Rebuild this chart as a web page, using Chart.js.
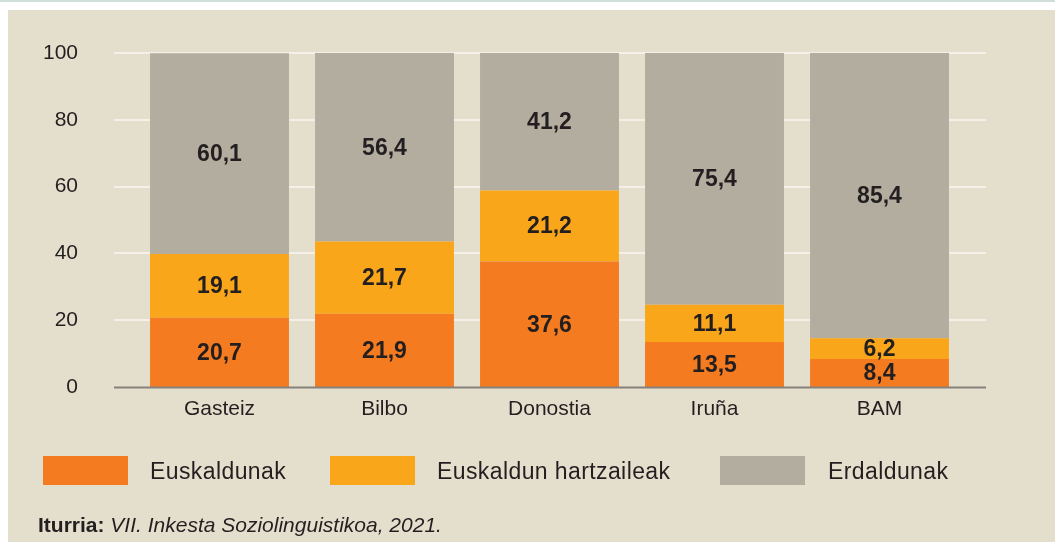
<!DOCTYPE html>
<html>
<head>
<meta charset="utf-8">
<script src="https://cdn.jsdelivr.net/npm/chart.js@4.4.1/dist/chart.umd.min.js"></script>
<style>
  html, body { margin: 0; padding: 0; background: #ffffff; }
  body { width: 1055px; height: 542px; position: relative; overflow: hidden;
         font-family: "Liberation Sans", Arial, sans-serif; color: #231f20; }
  .topline { position: absolute; left: 0; top: 0; width: 1055px; height: 2px; background: #cfe0dc; }
  .panel { position: absolute; left: 8px; top: 10px; width: 1047px; height: 532px; background: #e4dfcd; }
  #chart { position: absolute; left: 0; top: 0; width: 1055px; height: 542px; }
  .swatch { position: absolute; top: 456px; width: 85px; height: 29px; }
  .leg { position: absolute; top: 458px; font-size: 23px; line-height: 27px; letter-spacing: 0.4px; white-space: nowrap; }
  .source { position: absolute; left: 38px; top: 513px; font-size: 21px; line-height: 24px; white-space: nowrap; }
</style>
</head>
<body>
<div class="topline"></div>
<div class="panel"></div>
<canvas id="chart" width="1055" height="542"></canvas>

<div class="swatch" style="left:43px;background:#f47b20"></div>
<div class="leg" style="left:150px">Euskaldunak</div>
<div class="swatch" style="left:330px;background:#faa61a"></div>
<div class="leg" style="left:437px">Euskaldun hartzaileak</div>
<div class="swatch" style="left:720px;background:#b3ada0"></div>
<div class="leg" style="left:828px">Erdaldunak</div>

<div class="source"><b>Iturria:</b> <i>VII. Inkesta Soziolinguistikoa, 2021.</i></div>

<script>
const cities = ["Gasteiz", "Bilbo", "Donostia", "Iruña", "BAM"];
const euskaldunak = [20.7, 21.9, 37.6, 13.5, 8.4];
const hartzaileak = [19.1, 21.7, 21.2, 11.1, 6.2];
const erdaldunak = [60.1, 56.4, 41.2, 75.4, 85.4];
const yTicks = [0, 20, 40, 60, 80, 100];

const fontFamily = '"Liberation Sans", Arial, sans-serif';

// horizontal grid lines wider than the bar area, like the original
const gridPlugin = {
  id: 'wideGrid',
  beforeDatasetsDraw(chart) {
    const ctx = chart.ctx;
    const y = chart.scales.y;
    ctx.save();
    ctx.strokeStyle = '#f4f0e8';
    ctx.lineWidth = 2;
    yTicks.forEach(v => {
      if (v === 0) return;
      const py = Math.round(y.getPixelForValue(v));
      ctx.beginPath();
      ctx.moveTo(114, py);
      ctx.lineTo(986, py);
      ctx.stroke();
    });
    ctx.restore();
  },
  afterDatasetsDraw(chart) {
    const ctx = chart.ctx;
    const py = Math.round(chart.scales.y.getPixelForValue(0)) + 0.5;
    ctx.save();
    ctx.strokeStyle = '#86817a';
    ctx.lineWidth = 2;
    ctx.beginPath();
    ctx.moveTo(114, py);
    ctx.lineTo(986, py);
    ctx.stroke();
    ctx.restore();
  }
};

// value labels in the middle of each segment
const labelPlugin = {
  id: 'segLabels',
  afterDatasetsDraw(chart) {
    const ctx = chart.ctx;
    ctx.save();
    ctx.font = 'bold 23px ' + fontFamily;
    ctx.fillStyle = '#231f20';
    ctx.textAlign = 'center';
    ctx.textBaseline = 'middle';
    chart.data.datasets.forEach((ds, i) => {
      chart.getDatasetMeta(i).data.forEach((bar, j) => {
        const txt = ds.data[j].toFixed(1).replace('.', ',');
        ctx.fillText(txt, bar.x, (bar.y + bar.base) / 2 + 1);
      });
    });
    ctx.restore();
  }
};

new Chart(document.getElementById('chart'), {
  type: 'bar',
  data: {
    labels: cities,
    datasets: [
      { label: 'Euskaldunak', data: euskaldunak, backgroundColor: '#f47b20' },
      { label: 'Euskaldun hartzaileak', data: hartzaileak, backgroundColor: '#faa61a' },
      { label: 'Erdaldunak', data: erdaldunak, backgroundColor: '#b3ada0' }
    ]
  },
  options: {
    responsive: false,
    maintainAspectRatio: false,
    animation: false,
    categoryPercentage: 1,
    barPercentage: 0.842,
    layout: { padding: { left: 0, right: 93, top: 53, bottom: 115 } },
    plugins: { legend: { display: false }, tooltip: { enabled: false } },
    scales: {
      x: {
        stacked: true,
        grid: { display: false },
        border: { display: false },
        ticks: { color: '#231f20', font: { family: fontFamily, size: 21 }, padding: 2 },
        afterFit(scale) { scale.height = 40; }
      },
      y: {
        stacked: true,
        min: 0, max: 100,
        afterBuildTicks(scale) { scale.ticks = yTicks.map(v => ({ value: v })); },
        grid: { display: false },
        border: { display: false },
        ticks: { color: '#231f20', font: { family: fontFamily, size: 21 }, padding: 51 },
        afterFit(scale) { scale.width = 137; scale.paddingTop = 0; scale.paddingBottom = 0; }
      }
    }
  },
  plugins: [gridPlugin, labelPlugin]
});
</script>
</body>
</html>
